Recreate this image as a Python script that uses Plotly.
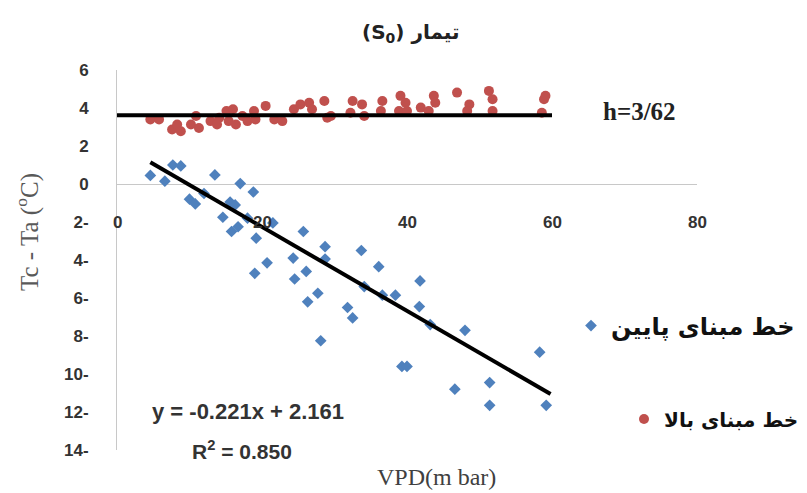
import plotly.graph_objects as go

# ---- data ----
low_x = [4.6, 6.6, 7.7, 8.8, 10.0, 10.8, 12.0, 13.5, 14.6, 15.6, 16.3, 15.8, 16.7, 17.0, 18.8, 18.0,
         19.2, 21.5, 20.7, 19.0, 25.7, 24.3, 24.5, 26.1, 28.7, 28.7, 26.3, 27.7, 28.1, 33.7, 36.1,
         34.1, 31.8, 32.5, 36.6, 38.4, 41.8, 41.7, 43.2, 39.3, 40.0, 48.0, 46.6, 51.4, 51.4, 58.3, 59.2]
low_y = [0.45, 0.15, 1.0, 0.95, -0.8, -1.05, -0.5, 0.48, -1.75, -0.95, -1.1, -2.5, -2.25, 0.02, -0.42, -1.8,
         -2.85, -2.05, -4.15, -4.7, -2.5, -3.9, -5.0, -4.6, -3.3, -3.95, -6.2, -5.75, -8.25, -3.5, -4.35,
         -5.4, -6.5, -7.05, -5.85, -5.85, -5.1, -6.45, -7.4, -9.6, -9.6, -7.7, -10.8, -10.45, -11.65, -8.85, -11.65]

up_x = [4.6, 5.8, 7.6, 8.3, 8.8, 10.2, 10.9, 11.3, 12.9, 14.1, 13.8, 15.1, 16.0, 15.4, 16.4, 17.3, 18.0,
        18.9, 19.1, 20.5, 21.7, 22.8, 24.4, 25.3, 26.5, 26.9, 28.6, 29.0, 29.5, 32.5, 32.2, 33.8, 34.1,
        36.6, 36.4, 39.1, 39.8, 38.9, 40.0, 41.9, 43.0, 43.7, 43.9, 46.9, 48.6, 48.3, 51.3, 51.8, 51.8,
        58.9, 59.1, 58.6]
up_y = [3.4, 3.4, 2.87, 3.13, 2.78, 3.13, 3.58, 2.95, 3.31, 3.49, 3.13, 3.84, 3.93, 3.31, 3.13, 3.58, 3.31,
        3.84, 3.4, 4.11, 3.4, 3.31, 3.93, 4.19, 4.28, 3.93, 4.37, 3.49, 3.58, 4.37, 3.75, 4.19, 3.58,
        4.37, 3.84, 4.64, 4.28, 3.84, 3.84, 4.02, 3.84, 4.64, 4.28, 4.81, 4.19, 3.84, 4.9, 4.46, 3.84,
        4.46, 4.64, 3.75]

h_value = 3.62
h_x = [0, 60]
slope = -0.221
intercept = 2.161
fit_x = [4.6, 59.8]

y_tick_vals = [6, 4, 2, 0, -2, -4, -6, -8, -10, -12, -14]
y_tick_text = ["6", "4", "2", "0", "2-", "4-", "6-", "8-", "10-", "12-", "14-"]
x_tick_vals = [0, 20, 40, 60, 80]
x_tick_text = ["0", "20", "40", "60", "80"]

name_low = "خط مبنای پایین"
name_up = "خط مبنای بالا"

# ---- layout geometry (pixels) ----
W, H = 807, 493
L, R, T, B = 117, 697, 70, 450


def px(x):
    return (x - L) / (R - L)


def py(y):
    return (B - y) / (B - T)


fig = go.Figure()
fig.add_trace(go.Scatter(x=low_x, y=low_y, mode="markers", name="<b>" + name_low + "</b>",
                         marker=dict(symbol="diamond", size=9, color="#4F81BD"), legend="legend"))
fig.add_trace(go.Scatter(x=up_x, y=up_y, mode="markers", name="<b>" + name_up + "</b>",
                         marker=dict(symbol="circle", size=10, color="#C0504D"), legend="legend2"))
fig.add_trace(go.Scatter(x=h_x, y=[h_value] * len(h_x), mode="lines", showlegend=False,
                         line=dict(color="black", width=4), hoverinfo="skip"))
fig.add_trace(go.Scatter(x=fit_x, y=[slope * v + intercept for v in fit_x], mode="lines",
                         showlegend=False, line=dict(color="black", width=4), hoverinfo="skip"))

annotations = []
for v, t in zip(x_tick_vals, x_tick_text):
    annotations.append(dict(x=v, y=-2, xref="x", yref="y", text="<b>" + t + "</b>", showarrow=False,
                            xanchor="center", yanchor="middle",
                            font=dict(family="Liberation Sans", size=17, color="#333333")))


def note(x, y, text, family, size, color, angle=0):
    return dict(x=px(x), y=py(y), xref="paper", yref="paper", showarrow=False, text=text,
                xanchor="center", yanchor="middle", textangle=angle,
                font=dict(family=family, size=size, color=color))


annotations += [
    note(411, 33, "<b>(S<sub>0</sub>) تیمار</b>", "DejaVu Sans", 20, "#222222"),
    note(639, 111, "<b>h=3/62</b>", "Liberation Serif", 25, "#222222"),
    note(248, 411, "<b>y = -0.221x + 2.161</b>", "Liberation Sans", 22, "#333333"),
    note(242, 450, "<b>R<sup>2</sup> = 0.850</b>", "Liberation Sans", 21, "#333333"),
    note(436, 477, "VPD(m bar)", "Liberation Serif", 24, "#404040"),
    note(27, 232, "Tc - Ta (<sup>o</sup>C)", "Liberation Serif", 25, "#595959", -90),
]

fig.update_layout(
    width=W, height=H,
    margin=dict(l=L, r=W - R, t=T, b=H - B, pad=0, autoexpand=False),
    paper_bgcolor="white", plot_bgcolor="white",
    xaxis=dict(range=[0, 80], showticklabels=False, showgrid=False, zeroline=False, showline=False,
               fixedrange=True),
    yaxis=dict(range=[-14, 6], tickvals=y_tick_vals, ticktext=["<b>" + t + "</b>" for t in y_tick_text],
               tickfont=dict(family="Liberation Sans", size=17, color="#333333"),
               showgrid=False, zeroline=True, zerolinecolor="#c8c8c8", zerolinewidth=1,
               showline=True, linecolor="#c8c8c8", linewidth=1, ticks="", ticklabelstandoff=24,
               fixedrange=True),
    legend=dict(x=px(571), y=py(326), xanchor="left", yanchor="middle", bgcolor="rgba(0,0,0,0)",
                font=dict(family="DejaVu Sans", size=24, color="#111111")),
    legend2=dict(x=px(624), y=py(419), xanchor="left", yanchor="middle", bgcolor="rgba(0,0,0,0)",
                 font=dict(family="DejaVu Sans", size=20, color="#111111")),
    annotations=annotations,
    showlegend=True,
)

fig.write_html("out.html", config={"displayModeBar": False},
               post_script="document.body.style.margin='0px';")
